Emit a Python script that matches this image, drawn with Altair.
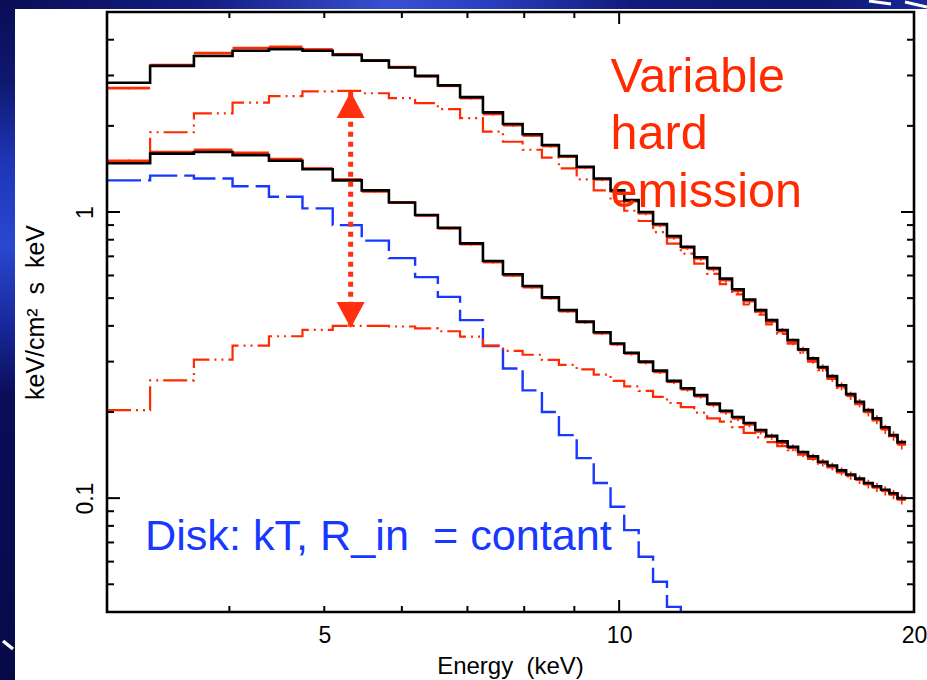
import altair as alt
import pandas as pd

# ------------------------------------------------------------------ data
edges = [3.00, 3.32, 3.68, 4.03, 4.39, 4.75, 5.10, 5.46, 5.82, 6.19, 6.53, 6.88,
         7.26, 7.61, 7.97, 8.34, 8.68, 9.05, 9.42, 9.80, 10.12, 10.47, 10.83,
         11.19, 11.56, 11.93, 12.30, 12.67, 13.04, 13.40, 13.77, 14.13, 14.50,
         14.86, 15.23, 15.59, 15.96, 16.32, 16.69, 17.05, 17.42, 17.78, 18.15,
         18.51, 18.88, 19.24, 19.63]

high_total = [2.83, 3.24, 3.51, 3.66, 3.71, 3.66, 3.54, 3.38, 3.20, 2.99,
              2.77, 2.52, 2.23, 2.03, 1.87, 1.715, 1.57, 1.44, 1.31, 1.19,
              1.10, 1.0, 0.908, 0.824, 0.756, 0.695, 0.637, 0.585, 0.537, 0.494,
              0.454, 0.419, 0.387, 0.357, 0.331, 0.308, 0.287, 0.267, 0.248, 0.231,
              0.217, 0.203, 0.190, 0.177, 0.166, 0.157]
high_data = [2.71, 3.26, 3.59, 3.74, 3.78, 3.70, 3.56, 3.39, 3.21, 2.98,
             2.76, 2.50, 2.20, 2.01, 1.85, 1.70, 1.56, 1.43, 1.30, 1.18,
             1.09, 0.99, 0.90, 0.815, 0.75, 0.688, 0.632, 0.578, 0.53, 0.488,
             0.449, 0.414, 0.383, 0.352, 0.329, 0.304, 0.285, 0.263, 0.246, 0.228,
             0.215, 0.200, 0.188, 0.174, 0.165, 0.154]
high_hard = [1.50, 1.90, 2.21, 2.41, 2.54, 2.64, 2.65, 2.60, 2.50, 2.40,
             2.29, 2.13, 1.91, 1.76, 1.65, 1.55, 1.42, 1.30, 1.19, 1.09,
             1.01, 0.93, 0.85, 0.775, 0.715, 0.66, 0.608, 0.56, 0.515, 0.475,
             0.438, 0.405, 0.375, 0.347, 0.322, 0.30, 0.28, 0.261, 0.243, 0.227,
             0.213, 0.200, 0.187, 0.175, 0.164, 0.155]

low_total = [1.48, 1.60, 1.62, 1.58, 1.51, 1.41, 1.29, 1.19, 1.08, 0.976,
             0.881, 0.777, 0.674, 0.606, 0.551, 0.503, 0.454, 0.414, 0.38, 0.347,
             0.322, 0.30, 0.279, 0.257, 0.242, 0.229, 0.214, 0.202, 0.192, 0.183,
             0.173, 0.165, 0.158, 0.151, 0.145, 0.140, 0.134, 0.130, 0.125, 0.121,
             0.117, 0.113, 0.110, 0.107, 0.104, 0.100]
low_data = [1.51, 1.62, 1.65, 1.61, 1.53, 1.42, 1.30, 1.18, 1.08, 0.972,
            0.876, 0.772, 0.668, 0.60, 0.546, 0.50, 0.45, 0.412, 0.377, 0.345,
            0.32, 0.298, 0.276, 0.255, 0.24, 0.227, 0.212, 0.20, 0.19, 0.181,
            0.171, 0.164, 0.156, 0.150, 0.143, 0.139, 0.133, 0.129, 0.124, 0.120,
            0.116, 0.112, 0.109, 0.106, 0.103, 0.099]
low_hard = [0.203, 0.258, 0.305, 0.341, 0.368, 0.387, 0.40, 0.40, 0.398, 0.392,
            0.383, 0.367, 0.341, 0.327, 0.317, 0.304, 0.292, 0.282, 0.27, 0.257,
            0.246, 0.237, 0.226, 0.215, 0.208, 0.199, 0.19, 0.185, 0.177, 0.169,
            0.163, 0.157, 0.152, 0.147, 0.142, 0.137, 0.132, 0.128, 0.123, 0.119,
            0.116, 0.112, 0.109, 0.106, 0.103, 0.099]

disk = [1.29, 1.34, 1.31, 1.23, 1.13, 1.03, 0.90, 0.794, 0.69, 0.592,
        0.505, 0.419, 0.34, 0.284, 0.238, 0.20, 0.166, 0.138, 0.113, 0.0933,
        0.0773, 0.0624, 0.051, 0.0417, 0.034]

rel_err = [0.010, 0.008, 0.008, 0.008, 0.008, 0.008, 0.008, 0.009, 0.009, 0.010,
           0.010, 0.011, 0.011, 0.012, 0.012, 0.013, 0.013, 0.014, 0.014, 0.015,
           0.016, 0.016, 0.017, 0.018, 0.018, 0.019, 0.020, 0.021, 0.022, 0.023,
           0.024, 0.025, 0.026, 0.027, 0.028, 0.029, 0.030, 0.031, 0.032, 0.033,
           0.034, 0.035, 0.036, 0.037, 0.038, 0.040]

x_label_values = [5, 10, 20]
y_label_values = [0.1, 1]
x_minor_ticks = [4, 5, 6, 7, 8, 9]
x_major_ticks = [10]
y_minor_ticks = [0.05, 0.06, 0.07, 0.08, 0.09, 0.2, 0.3, 0.4, 0.5, 0.6, 0.7,
                 0.8, 0.9, 2, 3, 4]
y_major_ticks = [0.1, 1]

arrow_energy = [5.32]
arrow_top = [2.63]
arrow_bottom = [0.393]

note_hard = ["Variable\nhard\nemission"]
note_hard_pos = [9.8, 2.63]
note_disk = ["Disk: kT, R_in\u00a0 = contant"]
note_disk_pos = [3.28, 0.0658]

# ------------------------------------------------------------------ style
W, H = 807, 600
RED = "#ff2a00"
BLUE = "#1838ff"
ARROW = "#ff3010"
NAVY = "#0a0e5a"
FONT = "Liberation Sans"

xs = alt.Scale(type="log", domain=[3, 20], nice=False)
ys = alt.Scale(type="log", domain=[0.04, 5], nice=False)

xax = alt.Axis(values=x_label_values, format="~g", ticks=False, tickSize=0,
               domain=False, grid=False, labelFontSize=23, labelFont=FONT,
               labelColor="black", labelPadding=30, labelBaseline="alphabetic",
               labelFlush=False, labelOverlap=False, zindex=5,
               title="Energy\u00a0 (keV)", titleFont=FONT, titleFontSize=24,
               titleFontWeight="normal", titleColor="black",
               titleX=403, titleY=61, titleBaseline="alphabetic",
               titleAlign="center")
yax = alt.Axis(values=y_label_values, format="~g", ticks=False, tickSize=0,
               domain=False, grid=False, labelFontSize=23, labelFont=FONT,
               labelColor="black", labelPadding=15, labelAngle=270,
               labelAlign="center", labelBaseline="alphabetic",
               labelFlush=False, labelOverlap=False, zindex=5,
               title="keV/cm\u00b2\u00a0 s\u00a0 keV", titleFont=FONT,
               titleFontSize=25, titleFontWeight="normal", titleColor="black",
               titleAngle=270, titleX=-64, titleY=300,
               titleBaseline="alphabetic", titleAlign="center")


def X(field="E"):
    return alt.X(f"{field}:Q", scale=xs, axis=xax)


def Y(field="F"):
    return alt.Y(f"{field}:Q", scale=ys, axis=yax)


one = pd.DataFrame({"k": [0]})

# ------------------------------------------------------------------ background
top_grad = alt.LinearGradient(
    gradient="linear", x1=0, x2=1, y1=0, y2=0,
    stops=[alt.GradientStop(offset=0.0, color="#0a0d55"),
           alt.GradientStop(offset=0.22, color="#131d82"),
           alt.GradientStop(offset=0.42, color="#3850d2"),
           alt.GradientStop(offset=0.52, color="#2a40c0"),
           alt.GradientStop(offset=0.68, color="#121b7c"),
           alt.GradientStop(offset=0.88, color="#0e1670"),
           alt.GradientStop(offset=1.0, color="#18289a")])
left_grad = alt.LinearGradient(
    gradient="linear", x1=0, x2=0, y1=0, y2=1,
    stops=[alt.GradientStop(offset=0.0, color="#0a0d55"),
           alt.GradientStop(offset=0.12, color="#0f1870"),
           alt.GradientStop(offset=0.24, color="#1e36b8"),
           alt.GradientStop(offset=0.36, color="#2a48d0"),
           alt.GradientStop(offset=0.48, color="#18289a"),
           alt.GradientStop(offset=0.58, color="#0a0d58"),
           alt.GradientStop(offset=1.0, color="#070a48")])

top_band = alt.Chart(one).mark_rect(color=top_grad).encode(
    x=alt.value(-107), x2=alt.value(W + 13), y=alt.value(-12), y2=alt.value(-3))
left_band = alt.Chart(one).mark_rect(color=left_grad).encode(
    x=alt.value(-107), x2=alt.value(-92), y=alt.value(-12), y2=alt.value(H + 68))
panel = alt.Chart(one).mark_rect(color="white").encode(
    x=alt.value(-92), x2=alt.value(W + 13), y=alt.value(-3), y2=alt.value(H + 68))
streak1 = alt.Chart(one).mark_rule(color="white", strokeWidth=3).encode(
    x=alt.value(762), x2=alt.value(784), y=alt.value(-11), y2=alt.value(-8))
streak2 = alt.Chart(one).mark_rule(color="white", strokeWidth=3).encode(
    x=alt.value(798), x2=alt.value(820), y=alt.value(-10), y2=alt.value(-5))
streak3 = alt.Chart(one).mark_rule(color="white", strokeWidth=3.5).encode(
    x=alt.value(-104), x2=alt.value(-94), y=alt.value(629), y2=alt.value(637))


# ------------------------------------------------------------------ curves
def step_layer(vals, color, width, dash=None):
    n = len(vals)
    df = pd.DataFrame({"E": edges[:n + 1], "F": list(vals) + [vals[-1]]})
    kw = dict(color=color, strokeWidth=width, interpolate="step-after",
              clip=True, strokeCap="butt", strokeJoin="miter")
    if dash:
        kw["strokeDash"] = dash
    return alt.Chart(df).mark_line(**kw).encode(x=X(), y=Y())


def data_layers(vals):
    n = len(vals)
    df = pd.DataFrame({"E": edges[:n], "E2": edges[1:n + 1], "F": vals,
                       "err": rel_err[:n]})
    df["Ec"] = (df["E"] * df["E2"]) ** 0.5
    df["Flo"] = df["F"] * (1 - df["err"])
    df["Fhi"] = df["F"] * (1 + df["err"])
    bars = alt.Chart(df).mark_rule(color=RED, strokeWidth=2.6, clip=True,
                                   strokeCap="butt").encode(
        x=X(), x2="E2:Q", y=Y())
    errs = alt.Chart(df).mark_rule(color=RED, strokeWidth=1.6, clip=True).encode(
        x=X("Ec"), y=Y("Flo"), y2="Fhi:Q")
    return [bars, errs]


DASHDOT = [24, 5, 2, 5, 2, 5]
curves = [
    step_layer(disk, BLUE, 2.4, [34, 7]),
    step_layer(low_hard, RED, 2.2, DASHDOT),
    step_layer(high_hard, RED, 2.2, DASHDOT),
    *data_layers(high_data),
    *data_layers(low_data),
    step_layer(high_total, "black", 2.6),
    step_layer(low_total, "black", 2.6),
]

# ------------------------------------------------------------------ arrow
adf = pd.DataFrame({"E": arrow_energy, "Ftop": arrow_top, "Fbot": arrow_bottom})
arrow_line = alt.Chart(adf).mark_rule(color=ARROW, strokeWidth=5,
                                      strokeDash=[5, 5], strokeCap="butt").encode(
    x=X(), y=Y("Ftop"), y2="Fbot:Q")
arrow_up = alt.Chart(adf).mark_point(
    shape="M0,0L-1,1.86L1,1.86Z", size=784, filled=True, color=ARROW,
    opacity=1, strokeWidth=0).encode(x=X(), y=Y("Ftop"))
arrow_down = alt.Chart(adf).mark_point(
    shape="M0,0L-1,-1.86L1,-1.86Z", size=784, filled=True, color=ARROW,
    opacity=1, strokeWidth=0).encode(x=X(), y=Y("Fbot"))

# ------------------------------------------------------------------ notes
hard_df = pd.DataFrame({"E": [note_hard_pos[0]], "F": [note_hard_pos[1]],
                        "t": note_hard})
hard_txt = alt.Chart(hard_df).mark_text(
    align="left", baseline="alphabetic", lineBreak="\n", lineHeight=57.5,
    fontSize=48.5, font=FONT, color=RED).encode(x=X(), y=Y(), text="t:N")
disk_df = pd.DataFrame({"E": [note_disk_pos[0]], "F": [note_disk_pos[1]],
                        "t": note_disk})
disk_txt = alt.Chart(disk_df).mark_text(
    align="left", baseline="alphabetic", fontSize=43.2, font=FONT,
    color=BLUE).encode(x=X(), y=Y(), text="t:N")


# ------------------------------------------------------------------ ticks
def xticks(vals, length):
    df = pd.DataFrame({"E": vals})
    top = alt.Chart(df).mark_rule(color="black", strokeWidth=2).encode(
        x=X(), y=alt.value(0), y2=alt.value(length))
    bot = alt.Chart(df).mark_rule(color="black", strokeWidth=2).encode(
        x=X(), y=alt.value(H), y2=alt.value(H - length))
    return [top, bot]


def yticks(vals, length):
    df = pd.DataFrame({"F": vals})
    left = alt.Chart(df).mark_rule(color="black", strokeWidth=2).encode(
        y=Y(), x=alt.value(0), x2=alt.value(length))
    right = alt.Chart(df).mark_rule(color="black", strokeWidth=2).encode(
        y=Y(), x=alt.value(W), x2=alt.value(W - length))
    return [left, right]


ticks = (xticks(x_minor_ticks, 6) + xticks(x_major_ticks, 12)
         + yticks(y_minor_ticks, 7) + yticks(y_major_ticks, 13))

frame = alt.Chart(one).mark_rect(filled=False, stroke="black",
                                 strokeWidth=2.6).encode(
    x=alt.value(0), x2=alt.value(W), y=alt.value(0), y2=alt.value(H))

chart = alt.layer(
    top_band, left_band, panel, streak1, streak2, streak3,
    *curves, arrow_line, arrow_up, arrow_down, hard_txt, disk_txt,
    *ticks, frame,
).properties(
    width=W, height=H,
    autosize=alt.AutoSizeParams(type="none"),
    padding={"left": 107, "top": 12, "right": 13, "bottom": 68},
).configure(background=NAVY, font=FONT).configure_view(stroke=None)

chart.save("out.html", embed_options={"renderer": "svg", "actions": False})
